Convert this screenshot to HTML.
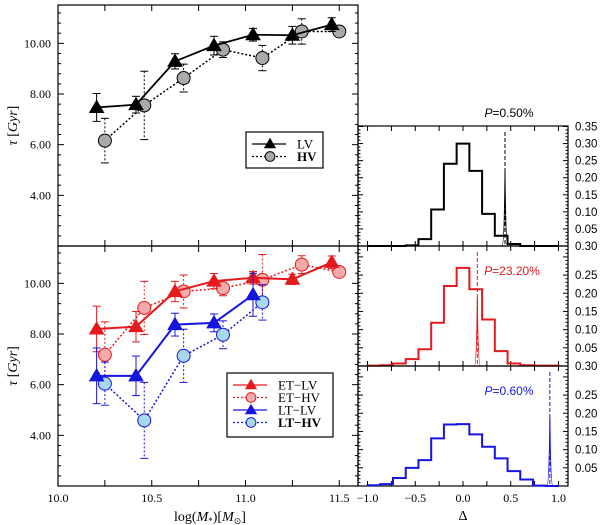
<!DOCTYPE html>
<html><head><meta charset="utf-8"><style>
body{margin:0;background:#fff}
svg{display:block;font-family:"Liberation Serif",serif}
</style></head><body>
<svg id="c" width="600" height="525" viewBox="0 0 600 525" xmlns="http://www.w3.org/2000/svg"></svg>
<script>
// ---- data ----
const lvX=[10.206,10.416,10.624,10.832,11.04,11.25,11.46];
const hvX=[10.25,10.46,10.67,10.88,11.09,11.30,11.50];
const lvY=[7.47,7.58,9.29,9.91,10.34,10.32,10.74];
const lvE=[0.55,0.33,0.3,0.37,0.25,0.35,0.27];
const hvY=[6.16,7.55,8.63,9.75,9.42,10.47,10.47];
const hvE=[0.88,1.35,0.55,0.31,0.5,0.5,0];
const etlvY=[8.2,8.29,9.68,10.09,10.22,10.16,10.83];
const etlvE=[0.9,0.6,0.4,0.3,0.25,0.2,0.25];
const ethvY=[7.18,9.03,9.68,9.81,10.14,10.74,10.45];
const ethvE=[1.3,1.05,0.65,0.3,1.0,0.35,0];
const ltlvY=[6.35,6.35,8.37,8.44,9.55];
const ltlvE=[1.1,0.78,0.45,0.35,0.85];
const lthvY=[6.04,4.59,7.14,7.97,9.25];
const lthvE=[0.85,1.5,1.05,0.55,0.7];
const binEdges=[-1,-0.8667,-0.7333,-0.6,-0.4667,-0.3333,-0.2,-0.0667,0.0667,0.2,0.3333,0.4667,0.6,0.7333,0.8667,1.0];
const histAll=[0,0,0,0.002,0.02,0.107,0.241,0.30,0.22,0.094,0.03,0.006,0,0,0];
const histET=[0.001,0.002,0.007,0.019,0.046,0.119,0.22,0.27,0.211,0.128,0.041,0.007,0.002,0.001,0.001];
const histLT=[0.002,0.005,0.022,0.05,0.071,0.131,0.169,0.17,0.142,0.108,0.076,0.041,0.018,0.001,0];
const obsD=[0.44,0.15,0.91];
const obsPeak=[0.22,0.19,0.19];
const pLabels=["P=0.50%","P=23.20%","P=0.60%"];
const yTicksL=[4,6,8,10];
const xTicksL=[10.0,10.5,11.0,11.5];
const xTicksR=[-1.0,-0.5,0.0,0.5,1.0];

const svg=document.getElementById('c');
const NS='http://www.w3.org/2000/svg';
function mk(t,a,p){const e=document.createElementNS(NS,t);for(const k in a)e.setAttribute(k,a[k]);(p||svg).appendChild(e);return e;}
const LX0=58,LX1=358;
const lx=v=>LX0+(v-10)/(11.6-10)*(LX1-LX0);
const panT={top:5,bot:246}, panB={top:246,bot:486};
const ly=(p,v)=>p.bot-(v-2)*25.33;
const RX0=358,RX1=568;
const rx=v=>RX0+(v+1.1)/2.2*(RX1-RX0);
const rp=[{top:126,bot:246,max:0.35*120/119.5},{top:246,bot:366,max:0.33},{top:366,bot:486,max:0.33}];
const ry=(i,v)=>rp[i].bot-v/rp[i].max*(rp[i].bot-rp[i].top);

function frame(x0,y0,x1,y1,name){
  const r=mk('rect',{x:x0,y:y0,width:x1-x0,height:y1-y0,fill:'none',stroke:'#000','stroke-width':1.2});
  
}
[panT,panB].forEach((p,pi)=>{
  frame(LX0,p.top,LX1,p.bot,pi?'bottom-left-plot':'top-left-plot');
  const g=mk('g',{});
  
  for(let v=10;v<=11.6;v+=0.25){const x=lx(v);mk('line',{x1:x,x2:x,y1:p.bot,y2:p.bot-6,stroke:'#000'},g);mk('line',{x1:x,x2:x,y1:p.top,y2:p.top+6,stroke:'#000'},g);}
  for(let v=2.4;v<11.5;v+=0.4){const y=ly(p,v);const maj=Math.abs(v/2-Math.round(v/2))<0.01;const L=maj?6:3;
    mk('line',{x1:LX0,x2:LX0+L,y1:y,y2:y,stroke:'#000'},g);mk('line',{x1:LX1,x2:LX1-L,y1:y,y2:y,stroke:'#000'},g);}
  yTicksL.forEach(v=>{const t=mk('text',{x:51,y:ly(p,v)+4,'text-anchor':'end','font-size':12});t.textContent=v.toFixed(2);
    });
  const yt=mk('text',{x:0,y:0,transform:`translate(17,${(p.top+p.bot)/2}) rotate(-90)`,'text-anchor':'middle','font-size':14});
  yt.innerHTML='<tspan font-style="italic">τ</tspan> [<tspan font-style="italic">Gyr</tspan>]';
  
});
xTicksL.forEach(v=>{const t=mk('text',{x:lx(v),y:502,'text-anchor':'middle','font-size':12});t.textContent=v.toFixed(1);
  });
const xt=mk('text',{x:210,y:521,'text-anchor':'middle','font-size':14});
xt.innerHTML='log(<tspan font-style="italic">M</tspan><tspan font-size="9" dy="3">*</tspan><tspan dy="-3">)[</tspan><tspan font-style="italic">M</tspan><tspan font-size="9" dy="3">⊙</tspan><tspan dy="-3">]</tspan>';


function tri(g,x,y,fill,s,k){k=k||1;mk('polygon',{points:`${x},${y-7*k} ${x-7*k},${y+5*k} ${x+7*k},${y+5*k}`,fill:fill,stroke:s},g);}
function circ(g,x,y,fill,s,k){k=k||1;mk('circle',{cx:x,cy:y,r:6.5*k,fill:fill,stroke:s,'stroke-width':1},g);}
function series(p,xs,ys,es,color,fill,dash,marker,name,lw){
  const g=mk('g',{});
  
  xs=xs.slice(0,ys.length);
  mk('polyline',{points:xs.map((x,i)=>lx(x)+','+ly(p,ys[i])).join(' '),fill:'none',stroke:color,'stroke-width':lw,'stroke-dasharray':dash?'2,2':'none'},g);
  xs.forEach((x,i)=>{if(!es[i])return;const X=lx(x),a=ly(p,ys[i]+es[i]),b=ly(p,ys[i]-es[i]);const d=dash?'2,2':'none';
    mk('line',{x1:X,x2:X,y1:a,y2:b,stroke:color,'stroke-dasharray':d},g);
    mk('line',{x1:X-4,x2:X+4,y1:a,y2:a,stroke:color},g);mk('line',{x1:X-4,x2:X+4,y1:b,y2:b,stroke:color},g);});
  xs.forEach((x,i)=>marker(g,lx(x),ly(p,ys[i]),fill,color));
}
series(panT,hvX,hvY,hvE,'#000','#aaa',true,circ,'series-hv',1.5);
series(panT,lvX,lvY,lvE,'#000','#000',false,tri,'series-lv',1.8);
series(panB,hvX,ethvY,ethvE,'#e41a1c','#f6aaaa',true,circ,'series-et-hv',1.5);
series(panB,lvX,etlvY,etlvE,'#e41a1c','#e41a1c',false,tri,'series-et-lv',2);
series(panB,hvX,lthvY,lthvE,'#1515e0','#a8d8ec',true,circ,'series-lt-hv',1.5);
series(panB,lvX,ltlvY,ltlvE,'#1515e0','#1515e0',false,tri,'series-lt-lv',2);

function legend(x0,y0,w,h,rows,name){
  const g=mk('g',{});
  mk('rect',{x:x0,y:y0,width:w,height:h,fill:'#fff',stroke:'#000','stroke-width':1.2},g);
  rows.forEach((r,i)=>{const y=y0+12+i*12.5;const e=mk('g',{},g);
    
    mk('line',{x1:x0+6,x2:x0+40,y1:y,y2:y,stroke:r[1],'stroke-width':1.3,'stroke-dasharray':r[4]?'2,2':'none'},e);
    r[3](e,x0+24,y,r[2],r[1],0.75);
    const t=mk('text',{x:x0+51,y:y+4.5,'font-size':13,'font-weight':r[5]?'bold':'normal'},e);t.textContent=r[0];});
}
legend(246,132,77,36,[['LV','#000','#000',tri,false,false],['HV','#000','#aaa',circ,true,true]],'top-legend');
legend(227,373,106,64,[['ET−LV','#e41a1c','#e41a1c',tri,false,false],['ET−HV','#e41a1c','#f6aaaa',circ,true,false],['LT−LV','#1515e0','#1515e0',tri,false,false],['LT−HV','#1515e0','#a8d8ec',circ,true,true]],'bottom-legend');

const hists=[histAll,histET,histLT], cols=['#000','#e41a1c','#1515e0'];
const rLabels=[["0.35","0.30","0.25","0.20","0.15","0.10","0.05"],["0.25","0.20","0.15","0.10","0.05"],["0.25","0.20","0.15","0.10","0.05"]];
const rVals=[[0.35,0.30,0.25,0.20,0.15,0.10,0.05],[0.25,0.20,0.15,0.10,0.05],[0.25,0.20,0.15,0.10,0.05]];
rp.forEach((p,i)=>{
  frame(RX0,p.top,RX1,p.bot,'histogram-panel-'+(i+1));
  const g=mk('g',{});
  for(let v=0.01;v<p.max;v+=0.01){const y=ry(i,v);const maj=Math.abs(v*20-Math.round(v*20))<0.01;const L=maj?5:2.5;
    mk('line',{x1:RX0,x2:RX0+L,y1:y,y2:y,stroke:'#000'},g);mk('line',{x1:RX1,x2:RX1-L,y1:y,y2:y,stroke:'#000'},g);}
  for(let v=-1;v<=1.001;v+=0.25){const x=rx(v);mk('line',{x1:x,x2:x,y1:p.bot,y2:p.bot-5,stroke:'#000'},g);mk('line',{x1:x,x2:x,y1:p.top,y2:p.top+5,stroke:'#000'},g);}
  rVals[i].forEach((v,k)=>{const t=mk('text',{x:575,y:ry(i,v)+4,'font-size':11.5,'font-family':'Liberation Sans, sans-serif'});t.textContent=rLabels[i][k];
    });
  if(i<2){const t=mk('text',{x:575,y:p.bot+4,'font-size':11.5,'font-family':'Liberation Sans, sans-serif'});t.textContent="0.30";
    }
  const h=hists[i];let d=`M${rx(binEdges[0])},${ry(i,0)}`;
  h.forEach((v,k)=>{d+=` L${rx(binEdges[k])},${ry(i,v)} L${rx(binEdges[k+1])},${ry(i,v)}`;});
  d+=` L${rx(binEdges[h.length])},${ry(i,0)}`;
  const hp=mk('path',{d:d,fill:'none',stroke:cols[i],'stroke-width':2});
  
  const ox=rx(obsD[i]);
  const ol=mk('line',{x1:ox,x2:ox,y1:p.top+6,y2:p.bot,stroke:cols[i],'stroke-dasharray':'4,2','stroke-width':1});
  
  const sp=mk('path',{d:`M${ox-3},${p.bot} Q${ox-0.7},${p.bot} ${ox},${ry(i,obsPeak[i])} Q${ox+0.7},${p.bot} ${ox+3},${p.bot}`,fill:'none',stroke:cols[i],'stroke-width':1});
  
  const ly2=[117,275,395][i], lxp=[509,512,509][i];
  const pt=mk('text',{x:lxp,y:ly2,'text-anchor':'middle','font-size':12,fill:cols[i],'font-family':'Liberation Sans, sans-serif'});
  pt.innerHTML='<tspan font-style="italic">P</tspan>'+pLabels[i].slice(1);
  
});
xTicksR.forEach(v=>{const t=mk('text',{x:rx(v),y:502,'text-anchor':'middle','font-size':12});t.textContent=v.toFixed(1).replace('-','−');
  });
const dt=mk('text',{x:463,y:520,'text-anchor':'middle','font-size':14});dt.textContent='Δ';

</script>
</body></html>
